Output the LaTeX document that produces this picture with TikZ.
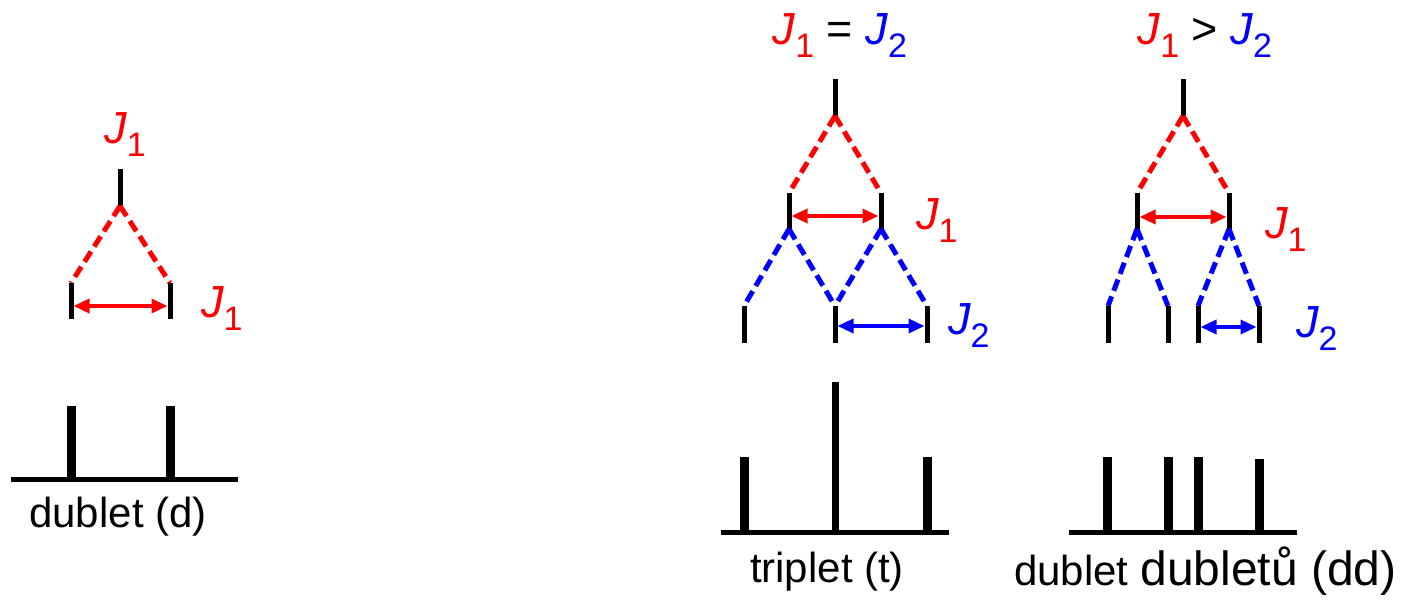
\documentclass[tikz,border=0pt]{standalone}
\usepackage{fontspec}
\setmainfont{Liberation Sans}
\usetikzlibrary{arrows.meta}
\definecolor{jred}{RGB}{255,0,0}
\definecolor{jblue}{RGB}{0,0,255}
\newcommand\Jlab[1]{{\itshape J}\raisebox{-13pt}{\fontsize{34}{34}\selectfont #1}}
\tikzset{
  lab/.style={inner sep=0pt, font=\fontsize{45}{45}\selectfont},
  txt/.style={inner sep=0pt, font=\fontsize{42}{42}\selectfont},
  stick/.style={line width=5pt},
  rdash/.style={draw=jred, line width=5pt, dash pattern=on 12pt off 6pt},
  bdash/.style={draw=jblue, line width=5pt, dash pattern=on 12pt off 6pt},
  rarr/.style={draw=jred, fill=jred, line width=3.5pt, {Triangle[length=16pt,width=14pt]}-{Triangle[length=16pt,width=14pt]}, shorten <=2.5pt, shorten >=2.5pt},
  barr/.style={draw=jblue, fill=jblue, line width=3.5pt, {Triangle[length=16pt,width=14pt]}-{Triangle[length=16pt,width=14pt]}, shorten <=2.5pt, shorten >=2.5pt},
  peak/.style={line width=9pt},
  axis/.style={line width=5pt}
}
\begin{document}
\begin{tikzpicture}[x=1pt,y=-1pt]
\useasboundingbox (0,0) rectangle (1402,602);
% ---------------- doublet ----------------
\coordinate (dT) at (120,169);
\coordinate (dS) at (120,206);
\coordinate (dL) at (71,283);  \coordinate (dLb) at (71,319);
\coordinate (dR) at (170,283); \coordinate (dRb) at (170,319);
\draw[stick] (dT) -- (dS);
\draw[rdash] (dS) -- (dL);
\draw[rdash] (dS) -- (dR);
\draw[stick] (dL) -- (dLb);
\draw[stick] (dR) -- (dRb);
\coordinate (dAl) at (71,306); \coordinate (dAr) at (170,306);
\draw[rarr] (dAl) -- (dAr);
\node[lab, text=jred, anchor=base] (dJtop) at (125,143) {\Jlab{1}};
\node[lab, text=jred, anchor=base west] (dJr) at (201,317) {\Jlab{1}};
\coordinate (dB1) at (11,479); \coordinate (dB2) at (238,479);
\coordinate (dP1) at (71,406);  \coordinate (dP1b) at (71,479);
\coordinate (dP2) at (170,406); \coordinate (dP2b) at (170,479);
\draw[peak] (dP1) -- (dP1b);
\draw[peak] (dP2) -- (dP2b);
\draw[axis] (dB1) -- (dB2);
\node[txt, anchor=base] (dname) at (118,527) {dublet (d)};
% ---------------- triplet ----------------
\coordinate (tT) at (835,79);
\coordinate (tS) at (835,116);
\coordinate (tL) at (789,193);  \coordinate (tLb) at (789,229);
\coordinate (tR) at (881,193);  \coordinate (tRb) at (881,229);
\coordinate (t1) at (744,306);  \coordinate (t1b) at (744,343);
\coordinate (t2) at (835,306);  \coordinate (t2b) at (835,343);
\coordinate (t3) at (927,306);  \coordinate (t3b) at (927,343);
\draw[stick] (tT) -- (tS);
\draw[rdash] (tS) -- (tL);
\draw[rdash] (tS) -- (tR);
\draw[stick] (tL) -- (tLb);
\draw[stick] (tR) -- (tRb);
\draw[bdash] (tLb) -- (t1);
\draw[bdash] (tLb) -- (t2);
\draw[bdash] (tRb) -- (t2);
\draw[bdash] (tRb) -- (t3);
\draw[stick] (t1) -- (t1b);
\draw[stick] (t2) -- (t2b);
\draw[stick] (t3) -- (t3b);
\coordinate (tAl) at (789,216); \coordinate (tAr) at (881,216);
\draw[rarr] (tAl) -- (tAr);
\coordinate (tBl) at (835,326); \coordinate (tBr) at (927,326);
\draw[barr] (tBl) -- (tBr);
\node[lab, anchor=base] (tJtop) at (840,45) {\textcolor{jred}{\Jlab{1}} = \textcolor{jblue}{\Jlab{2}}};
\node[lab, text=jred, anchor=base west] (tJ1) at (916,229) {\Jlab{1}};
\node[lab, text=jblue, anchor=base west] (tJ2) at (948,334) {\Jlab{2}};
\coordinate (tB1) at (721,532); \coordinate (tB2) at (949,532);
\coordinate (tP1) at (744,457); \coordinate (tP1b) at (744,532);
\coordinate (tP2) at (835,382); \coordinate (tP2b) at (835,532);
\coordinate (tP3) at (927,457); \coordinate (tP3b) at (927,532);
\draw[line width=9pt] (tP1) -- (tP1b);
\draw[line width=7pt] (tP2) -- (tP2b);
\draw[line width=9pt] (tP3) -- (tP3b);
\draw[axis] (tB1) -- (tB2);
\node[txt, anchor=base] (tname) at (827,582) {triplet (t)};
% ---------------- doublet of doublets ----------------
\coordinate (qT) at (1183,79);
\coordinate (qS) at (1183,116);
\coordinate (qL) at (1137,193);  \coordinate (qLb) at (1137,229);
\coordinate (qR) at (1229,193);  \coordinate (qRb) at (1229,229);
\coordinate (q1) at (1108,306);  \coordinate (q1b) at (1108,343);
\coordinate (q2) at (1168,306);  \coordinate (q2b) at (1168,343);
\coordinate (q3) at (1198,306);  \coordinate (q3b) at (1198,343);
\coordinate (q4) at (1259,306);  \coordinate (q4b) at (1259,343);
\draw[stick] (qT) -- (qS);
\draw[rdash] (qS) -- (qL);
\draw[rdash] (qS) -- (qR);
\draw[stick] (qL) -- (qLb);
\draw[stick] (qR) -- (qRb);
\draw[bdash] (qLb) -- (q1);
\draw[bdash] (qLb) -- (q2);
\draw[bdash] (qRb) -- (q3);
\draw[bdash] (qRb) -- (q4);
\draw[stick] (q1) -- (q1b);
\draw[stick] (q2) -- (q2b);
\draw[stick] (q3) -- (q3b);
\draw[stick] (q4) -- (q4b);
\coordinate (qAl) at (1137,217); \coordinate (qAr) at (1229,217);
\draw[rarr] (qAl) -- (qAr);
\coordinate (qBl) at (1198,327); \coordinate (qBr) at (1259,327);
\draw[barr] (qBl) -- (qBr);
\node[lab, anchor=base] (qJtop) at (1205,45) {\textcolor{jred}{\Jlab{1}} > \textcolor{jblue}{\Jlab{2}}};
\node[lab, text=jred, anchor=base west] (qJ1) at (1265,238) {\Jlab{1}};
\node[lab, text=jblue, anchor=base west] (qJ2) at (1296,337) {\Jlab{2}};
\coordinate (qB1) at (1069,532); \coordinate (qB2) at (1297,532);
\coordinate (qP1) at (1107,457); \coordinate (qP1b) at (1107,532);
\coordinate (qP2) at (1168,457); \coordinate (qP2b) at (1168,532);
\coordinate (qP3) at (1198,457); \coordinate (qP3b) at (1198,532);
\coordinate (qP4) at (1259,459); \coordinate (qP4b) at (1259,532);
\draw[peak] (qP1) -- (qP1b);
\draw[peak] (qP2) -- (qP2b);
\draw[peak] (qP3) -- (qP3b);
\draw[peak] (qP4) -- (qP4b);
\draw[axis] (qB1) -- (qB2);
\node[txt, anchor=base west] (qname) at (1014,585) {{\fontsize{42}{42}\selectfont dublet} {\fontsize{48}{48}\selectfont dubletů (dd)}};
\end{tikzpicture}
\end{document}
